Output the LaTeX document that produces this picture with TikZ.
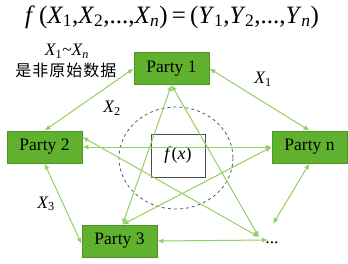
\documentclass[tikz,border=0pt]{standalone}
\usepackage{fontspec}
\setmainfont{Liberation Serif}
\newfontfamily\cjk{Noto Sans CJK SC}
\usetikzlibrary{arrows.meta}
\definecolor{boxfill}{RGB}{96,178,46}
\definecolor{boxdraw}{RGB}{78,150,40}
\definecolor{linkgreen}{RGB}{146,208,96}
\newcommand{\vv}[2]{\textit{#1}\kern-0.5pt\textsubscript{#2}}
\tikzset{
  party/.style={draw=boxdraw, fill=boxfill, line width=0.8pt, minimum width=75pt, minimum height=32pt, inner sep=0pt, font=\fontsize{17.5}{20}\selectfont},
  link/.style={draw=linkgreen, line width=1pt, {Latex[length=6pt,width=5pt]}-{Latex[length=6pt,width=5pt]}},
  lab/.style={font=\fontsize{17.5}{20}\selectfont, inner sep=0pt}
}
\begin{document}
\begin{tikzpicture}[x=1pt,y=-1pt]
\useasboundingbox (0,0) rectangle (348,263);
% title
\node[font=\fontsize{25}{28}\selectfont, inner sep=0pt] (title) at (172,17)
  {\textit{f}\,(\vv{X}{1},\vv{X}{2},...,\vv{X}{\textit{n}})\,=\,(\vv{Y}{1},\vv{Y}{2},...,\vv{Y}{\textit{n}})};
\node[lab] (xs) at (67,51) {\vv{X}{1}\textasciitilde\vv{X}{\textit{n}}};
\node[font=\cjk\fontsize{16}{18}\selectfont, inner sep=0pt] (cn) at (66,70) {是\kern1pt 非\kern1pt 原\kern1pt 始\kern1pt 数\kern1pt 据};
% dashed circle and f(x)
\draw[dashed, draw=black!65, line width=0.8pt] (176,158) ellipse [x radius=57, y radius=51];
\node[draw=black!70, fill=white, line width=0.8pt, minimum width=54pt, minimum height=43pt, inner sep=0pt, font=\fontsize{18}{20}\selectfont] (fx) at (178,155.5) {\textit{f}(\textit{x})};
% parties
\node[party] (p1) at (171.5,68.5) {Party 1};
\node[party] (p2) at (44.5,147) {Party 2};
\node[party] (pn) at (309.5,147) {Party n};
\node[party] (p3) at (119.5,241) {Party 3};
\node[lab] (dots) at (272,243) {...};
\coordinate (dA) at (259,237);
\coordinate (dB) at (268,240);
\coordinate (dC) at (273,224);
% links
\draw[link] (p1.west) -- (p2.north);
\draw[link] (p1.east) -- (pn.north);
\draw[link] (p2.south) -- ([yshift=-3pt]p3.west);
\draw[link] (pn.south) -- (dC);
\draw[link] (p3.east) -- (dB);
\draw[link] (p2.east) -- (pn.west);
\draw[link] (p1.south) -- ([xshift=3pt]p3.north);
\draw[link] (p1.south) -- (dA);
\draw[link] ([yshift=10pt]p2.east) -- (dA);
\draw[link] ([xshift=3pt]p3.north) -- (pn.west);
% labels
\node[lab] (x1) at (263,79) {\vv{X}{1}};
\node[lab] (x2) at (112,108) {\vv{X}{2}};
\node[lab] (x3) at (46,204) {\vv{X}{3}};
\end{tikzpicture}
\end{document}
